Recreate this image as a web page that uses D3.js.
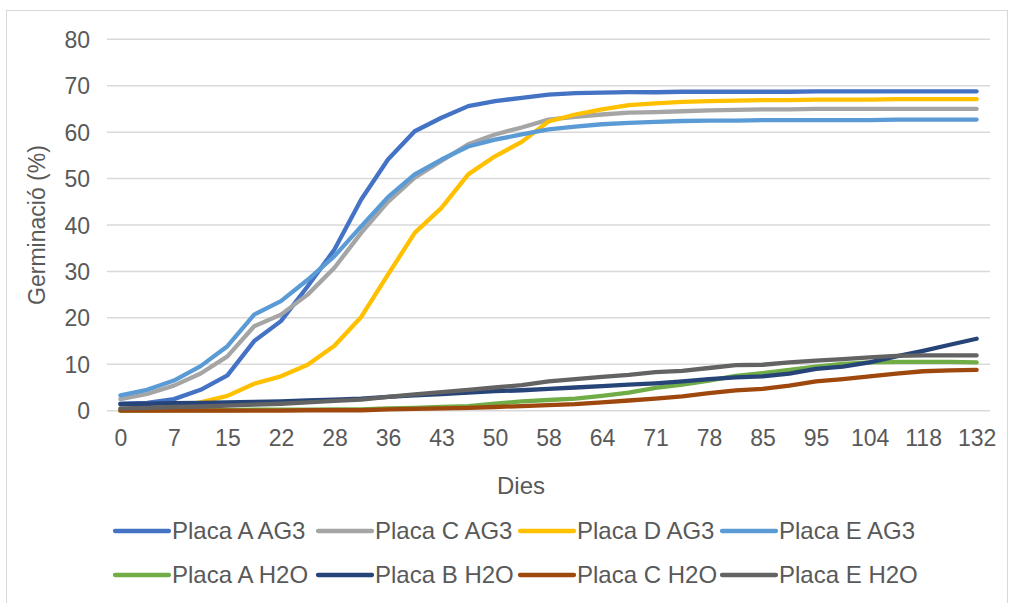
<!DOCTYPE html>
<html><head><meta charset="utf-8">
<script src="https://cdn.jsdelivr.net/npm/d3@7"></script>
<style>body{margin:0;background:#fff}svg{display:block}text{font-family:"Liberation Sans",Arial,sans-serif;fill:#595959}</style>
</head><body><svg id="c" width="1011" height="603"></svg>
<script>
// categories (days); only every other one is labelled on the axis
const categories = ["0","3","7","11","15","18","22","25","28","32","36","39","43","46","50","53","58","60","64","67","71","74","78","81","85","90","95","99","104","111","118","125","132"];
const tickLabels = ["0","7","15","22","28","36","43","50","58","64","71","78","85","95","104","118","132"];
const yTicks = [0,10,20,30,40,50,60,70,80];

const seriesNames = ["Placa A AG3","Placa C AG3","Placa D AG3","Placa E AG3","Placa A H2O","Placa B H2O","Placa C H2O","Placa E H2O"];
const seriesColors = ["#4472C4","#A5A5A5","#FFC000","#5B9BD5","#70AD47","#264478","#9E480E","#636363"];

const placaA_AG3 = [1.5,1.7,2.5,4.5,7.6,15,19.3,26.8,34.7,45.5,54.1,60.2,63.1,65.6,66.7,67.4,68.1,68.4,68.5,68.6,68.6,68.7,68.7,68.7,68.7,68.7,68.8,68.8,68.8,68.8,68.8,68.8,68.8];
const placaC_AG3 = [2.5,3.6,5.4,8.0,11.7,18.2,20.7,25.0,30.8,38.3,45.0,50.2,53.8,57.4,59.5,61.0,62.7,63.3,63.8,64.2,64.3,64.5,64.7,64.8,64.9,64.9,65.0,65.0,65.0,65.0,65.0,65.0,65.0];
const placaD_AG3 = [0.2,0.3,0.8,1.8,3.2,5.8,7.4,9.9,14.0,20.2,29.3,38.3,43.7,50.9,54.8,57.9,62.3,63.8,64.9,65.8,66.2,66.5,66.7,66.8,66.9,66.9,67.0,67.0,67.0,67.1,67.1,67.1,67.1];
const placaE_AG3 = [3.3,4.5,6.5,9.6,13.9,20.7,23.6,28.2,33.3,39.7,46.0,50.9,54.1,56.9,58.4,59.5,60.6,61.2,61.7,62.0,62.2,62.4,62.5,62.5,62.6,62.6,62.6,62.6,62.6,62.7,62.7,62.7,62.7];
const placaA_H2O = [0,0,0.1,0.1,0.1,0.2,0.2,0.2,0.3,0.3,0.5,0.6,0.8,1.0,1.5,2.0,2.3,2.6,3.2,3.9,4.9,5.6,6.5,7.5,8.1,8.8,9.5,10.1,10.4,10.5,10.5,10.5,10.4];
const placaB_H2O = [1.4,1.5,1.6,1.7,1.8,1.9,2.0,2.2,2.4,2.6,3.0,3.3,3.6,3.9,4.2,4.4,4.7,5.0,5.3,5.6,5.9,6.3,6.8,7.2,7.4,8.0,9.0,9.5,10.4,11.7,12.9,14.2,15.5];
const placaC_H2O = [0,0,0,0,0,0,0,0.1,0.1,0.1,0.3,0.4,0.5,0.6,0.8,1.0,1.2,1.4,1.8,2.2,2.6,3.1,3.8,4.4,4.7,5.4,6.3,6.8,7.4,8.0,8.5,8.7,8.8];
const placaE_H2O = [0.5,0.6,0.8,0.9,1.1,1.3,1.5,1.8,2.1,2.4,3.0,3.5,4.0,4.5,5.0,5.5,6.3,6.8,7.3,7.7,8.3,8.6,9.2,9.8,9.9,10.4,10.8,11.1,11.5,11.8,11.9,11.9,11.9];

const seriesValues = [placaA_AG3,placaC_AG3,placaD_AG3,placaE_AG3,placaA_H2O,placaB_H2O,placaC_H2O,placaE_H2O];

(function(){
const svg = d3.select("#c");
// chart border
svg.append("rect").attr("x",6.5).attr("y",10.5).attr("width",1001).attr("height",620)
  .attr("fill","none").attr("stroke","#D9D9D9").attr("stroke-width",1);

const pl = 107, pr = 990, pt = 39.3, pb = 410.7;
const x = d3.scalePoint().domain(categories).range([pl,pr]).padding(0.5);
const y = d3.scaleLinear().domain([0,80]).range([pb,pt]);

// gridlines
svg.append("g").selectAll("line").data(yTicks).join("line")
  .attr("x1",pl).attr("x2",pr).attr("y1",d=>y(d)).attr("y2",d=>y(d))
  .attr("stroke","#D9D9D9").attr("stroke-width",1.5);

// y axis labels
const ya = svg.append("g").attr("transform",`translate(${pl},0)`)
  .call(d3.axisLeft(y).tickValues(yTicks).tickSize(0).tickPadding(17));
ya.select(".domain").remove();
ya.selectAll("text").style("font-size","23px").attr("fill","#595959").attr("dy","0.35em");

// x axis labels
const xa = svg.append("g").attr("transform",`translate(0,${pb})`)
  .call(d3.axisBottom(x).tickValues(tickLabels).tickSize(0).tickPadding(19));
xa.select(".domain").remove();
xa.selectAll("text").style("font-size","23px").attr("fill","#595959");

// axis titles
svg.append("text").attr("transform","translate(45,225) rotate(-90)").attr("text-anchor","middle")
  .style("font-size","23px").text("Germinació (%)");
svg.append("text").attr("x",521).attr("y",494).attr("text-anchor","middle")
  .style("font-size","24px").text("Dies");

// lines
const line = d3.line().x((d,i)=>x(categories[i])).y(d=>y(d));
svg.append("g").selectAll("path").data(seriesValues).join("path")
  .attr("d",d=>line(d)).attr("fill","none")
  .attr("stroke",(d,i)=>seriesColors[i]).attr("stroke-width",4.3)
  .attr("stroke-linecap","round").attr("stroke-linejoin","round");

// legend
const legX = [115,318,520,722];
const legY = [531,575];
const lg = svg.append("g");
seriesNames.forEach((n,i)=>{
  const cx = legX[i%4], cy = legY[Math.floor(i/4)];
  lg.append("line").attr("x1",cx).attr("x2",cx+54).attr("y1",cy).attr("y2",cy)
    .attr("stroke",seriesColors[i]).attr("stroke-width",4.3).attr("stroke-linecap","round");
  lg.append("text").attr("x",cx+57).attr("y",cy).attr("dy","0.35em").style("font-size","24px").text(n);
});
})();
</script></body></html>
